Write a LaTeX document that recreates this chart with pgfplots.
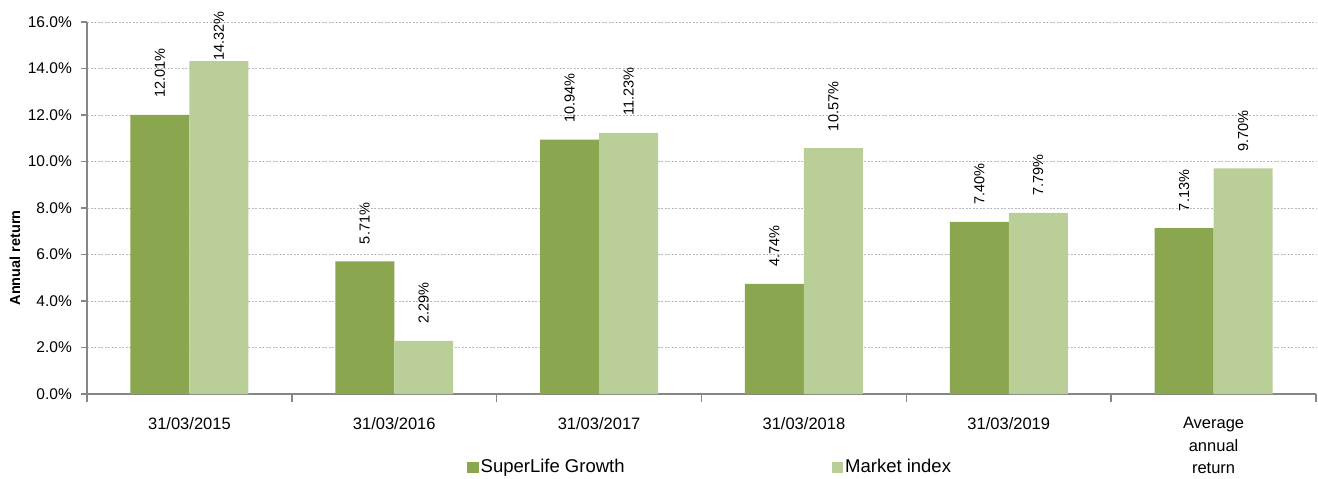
\documentclass[border=0pt]{standalone}
\usepackage{fontspec}
\setmainfont{Liberation Sans}
\usepackage{pgfplots}
\pgfplotsset{compat=1.18}
\usepackage{pgfplotstable}
\definecolor{dg}{RGB}{138,166,78}
\definecolor{lg}{RGB}{186,207,152}
\definecolor{axg}{RGB}{134,134,134}
\definecolor{grd}{RGB}{185,185,185}

\pgfplotstableread{
x a b offa offb
0 12.01 14.32 17 0
1 5.71 2.29 17 17
2 10.94 11.23 17 17
3 4.74 10.57 17 17
4 7.40 7.79 17 17
5 7.13 9.70 17 17
}\data

\begin{document}
\begin{tikzpicture}
\begin{axis}[
  scale only axis, width=1229pt, height=372pt,
  xmin=-0.5, xmax=5.5, ymin=0, ymax=16,
  separate axis lines,
  axis x line*=bottom, axis y line*=left,
  axis line style={axg, line width=1.4pt},
  ybar, bar width=0.288,
  clip=false,
  ytick={0,2,...,16},
  ymajorgrids,
  grid style={grd, line width=0.7pt, dash pattern=on 2pt off 1.5pt},
  /pgf/number format/assume math mode=true,
  yticklabel={\pgfmathprintnumber[fixed,fixed zerofill,precision=1]{\tick}\%},
  y tick label style={font=\fontsize{15.5}{18}\selectfont, inner sep=0pt, xshift=-9pt},
  xtick={0,...,5},
  xticklabels={31/03/2015,31/03/2016,31/03/2017,31/03/2018,31/03/2019,{Average\\annual\\return}},
  x tick label style={font=\fontsize{16.5}{22.5}\selectfont, align=center, inner sep=0pt, yshift=-17pt},
  major x tick style={draw=none},
  minor xtick={-0.5,0.5,...,5.5},
  tick align=outside,
  major tick length=6pt, minor tick length=8pt,
  tick style={axg, line width=1.4pt},
  every node near coord/.append style={font=\fontsize{14.5}{17}\selectfont},
  legend columns=2,
  legend style={draw=none, at={(axis description cs:0.507,0)}, anchor=center, yshift=-73pt,
    font=\fontsize{18.5}{21}\selectfont,
    /tikz/every even column/.append style={column sep=205pt},
    nodes={inner xsep=2pt}},
  legend image code/.code={\fill[#1] (0pt,-5.5pt) rectangle (11.5pt,5.5pt);},
]
\addplot[fill=dg, draw=none, bar shift=-0.144,
  visualization depends on={\thisrow{offa}\as\off},
  nodes near coords={\pgfmathprintnumber[fixed,fixed zerofill,precision=2]{\pgfplotspointmeta}\%},
  every node near coord/.append style={yshift=\off pt, rotate=90, anchor=west, inner sep=0pt, text=black}]
  table[x=x,y=a] {\data};
\addlegendentry{SuperLife Growth}
\addplot[fill=lg, draw=none, bar shift=0.144,
  visualization depends on={\thisrow{offb}\as\off},
  nodes near coords={\pgfmathprintnumber[fixed,fixed zerofill,precision=2]{\pgfplotspointmeta}\%},
  every node near coord/.append style={yshift=\off pt, rotate=90, anchor=west, inner sep=0pt, text=black}]
  table[x=x,y=b] {\data};
\addlegendentry{Market index}
\node[font=\bfseries\fontsize{14.5}{17}\selectfont, rotate=90, inner sep=0pt] at ([xshift=-72pt]rel axis cs:0,0.366) {Annual return};
\path ([xshift=-87pt,yshift=-81pt]rel axis cs:0,0) rectangle ([xshift=2pt,yshift=22pt]rel axis cs:1,1);
\end{axis}
\end{tikzpicture}
\end{document}
